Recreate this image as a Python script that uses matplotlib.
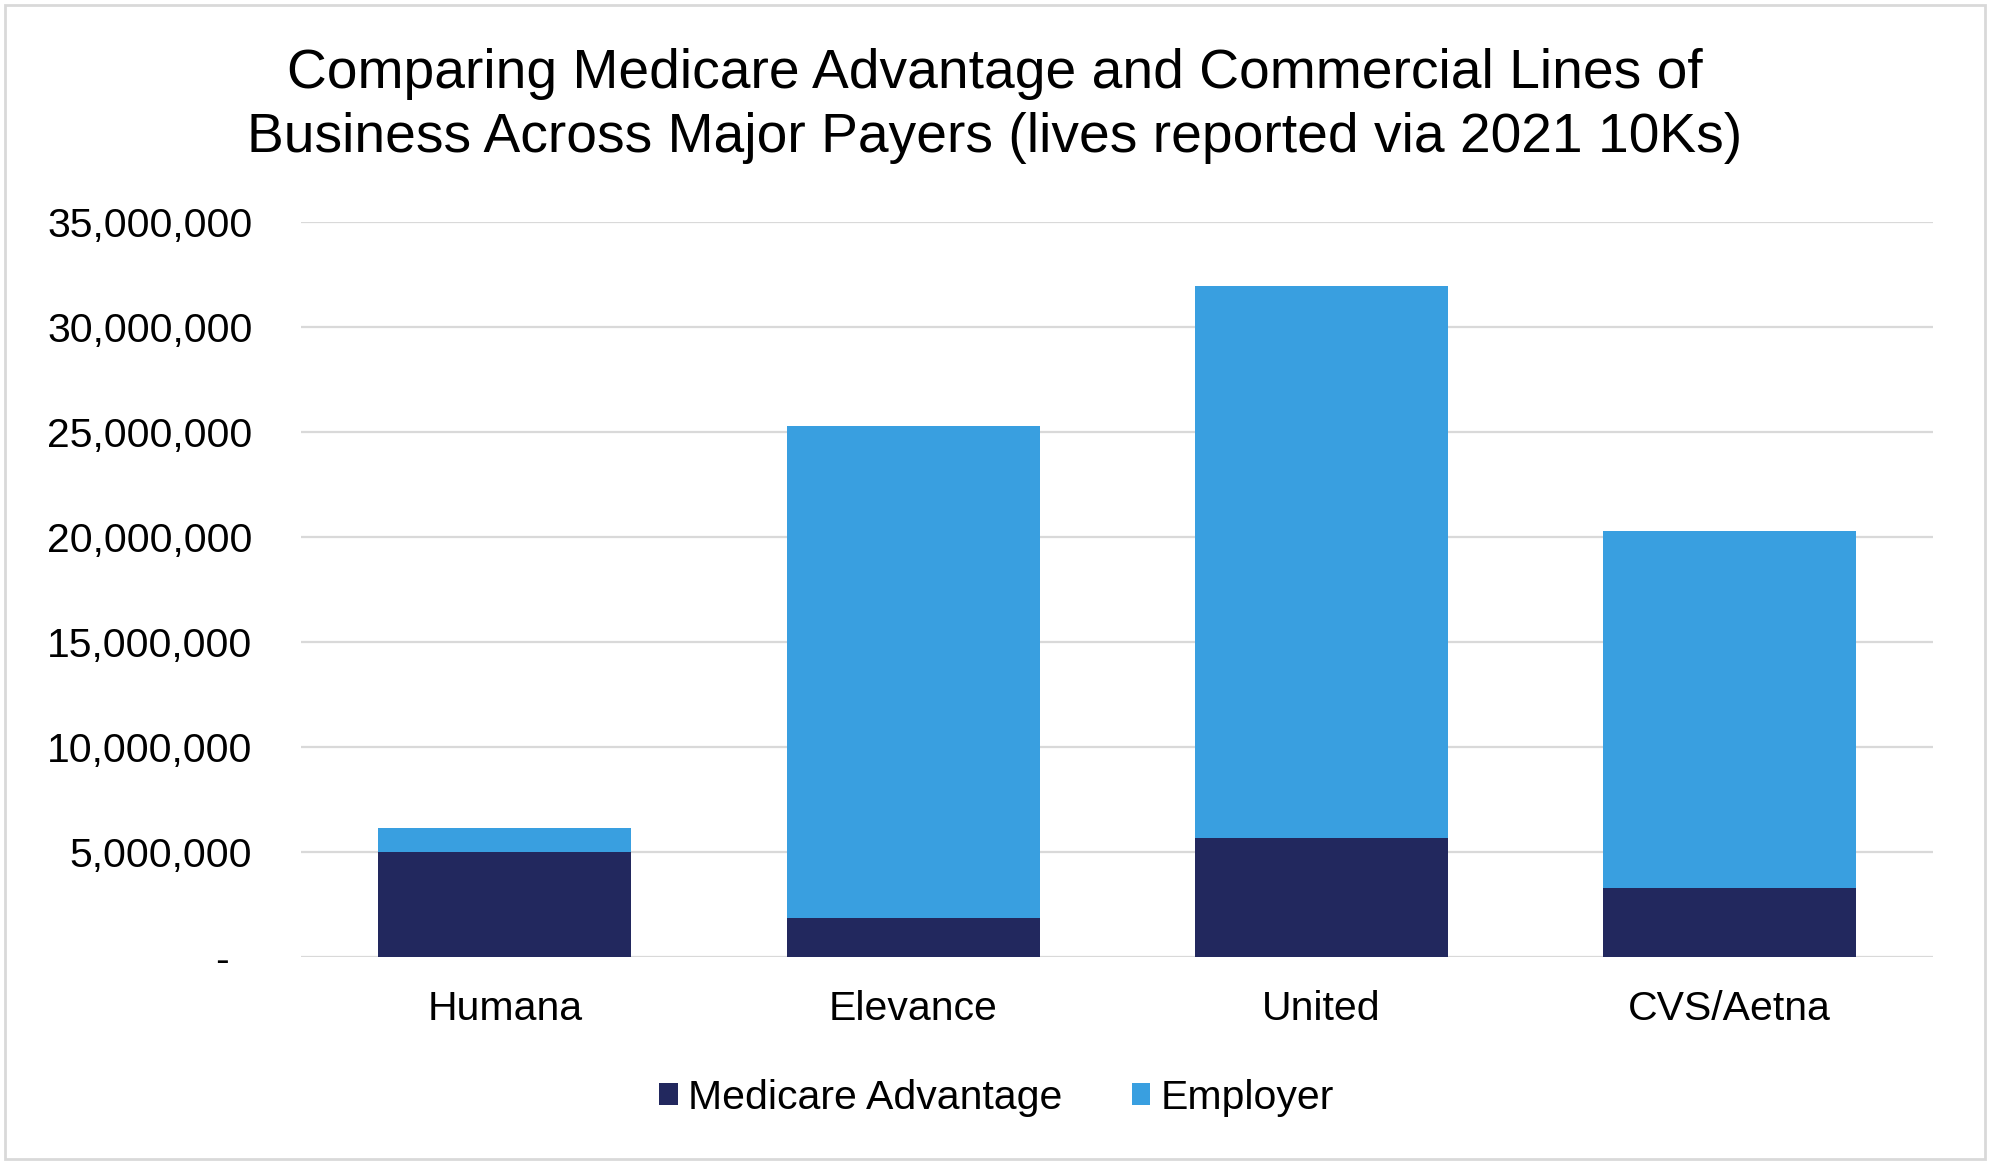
import matplotlib.pyplot as plt
from matplotlib.patches import Rectangle
from matplotlib.ticker import FuncFormatter

# data (lives)
payers = ["Humana", "Elevance", "United", "CVS/Aetna"]
medicare_adv = [5000000, 1820000, 5650000, 3250000]
employer = [1110000, 23450000, 26290000, 17040000]
series_names = ["Medicare Advantage", "Employer"]

navy = "#22285E"
blue = "#399FE0"
grid_gray = "#D9D9D9"

plt.rcParams["font.family"] = ["Liberation Sans", "DejaVu Sans"]

fig = plt.figure(figsize=(19.93, 11.68), dpi=100)
ax = fig.add_axes([0.151, 0.181, 0.819, 0.629])

x = range(len(payers))
ax.bar(x, medicare_adv, width=0.62, color=navy, label=series_names[0], zorder=3)
ax.bar(x, employer, width=0.62, bottom=medicare_adv, color=blue,
       label=series_names[1], zorder=3)

ax.set_xlim(-0.5, len(payers) - 0.5)
ax.set_ylim(0, 35000000)
ax.set_yticks(range(0, 35000001, 5000000))
# accounting style: zero shown as a dash, padded like a digit
ax.yaxis.set_major_formatter(
    FuncFormatter(lambda v, p: "-\u2007" if v == 0 else f"{int(v):,}"))
ax.set_xticks(list(x))
ax.set_xticklabels(payers)

# gridlines only, no spines (excel look)
ax.grid(axis="y", color=grid_gray, linewidth=1.6, zorder=0)
for s in ax.spines.values():
    s.set_visible(False)
ax.tick_params(axis="both", length=0, labelsize=29.5, colors="black")
ax.tick_params(axis="y", pad=35)
ax.tick_params(axis="x", pad=24)
for lbl in ax.get_yticklabels():
    lbl.set_ha("right")

fig.text(0.499, 0.909,
         "Comparing Medicare Advantage and Commercial Lines of\n"
         "Business Across Major Payers (lives reported via 2021 10Ks)",
         ha="center", va="center", fontsize=39.7, linespacing=1.3)

fig.legend(loc="center", bbox_to_anchor=(0.5, 0.060), ncol=2, frameon=False,
           fontsize=29.5, handlelength=0.45, handleheight=0.45,
           handletextpad=0.25, columnspacing=1.7)

# light gray frame around the whole chart
fig.patches.append(Rectangle((0.0025, 0.0075), 0.9935, 0.988,
                             transform=fig.transFigure, fill=False,
                             edgecolor=grid_gray, linewidth=2))

fig.savefig("out.png", dpi=100, facecolor="white")
